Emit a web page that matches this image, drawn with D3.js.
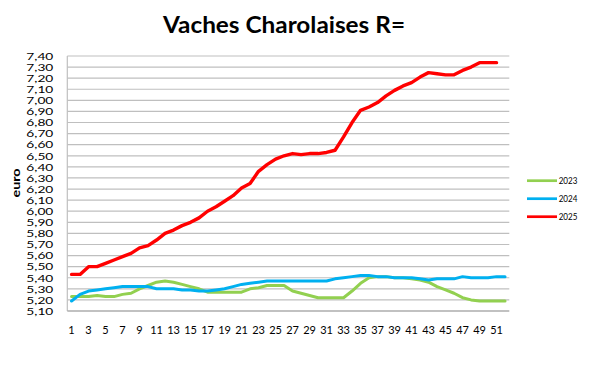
<!DOCTYPE html>
<html>
<head>
<meta charset="utf-8">
<script src="https://cdn.jsdelivr.net/npm/d3@7"></script>
<style>
  html, body { margin: 0; padding: 0; background: #fff; }
  svg { display: block; }
</style>
</head>
<body>
<svg id="chart" width="600" height="365"></svg>
<script>
const title = "Vaches Charolaises R=";
const yAxisTitle = "euro";
const weeks = [1,2,3,4,5,6,7,8,9,10,11,12,13,14,15,16,17,18,19,20,21,22,23,24,25,26,27,28,29,30,31,32,33,34,35,36,37,38,39,40,41,42,43,44,45,46,47,48,49,50,51,52];
const xTickLabels = [1,3,5,7,9,11,13,15,17,19,21,23,25,27,29,31,33,35,37,39,41,43,45,47,49,51];
const yTickValues = [5.10,5.20,5.30,5.40,5.50,5.60,5.70,5.80,5.90,6.00,6.10,6.20,6.30,6.40,6.50,6.60,6.70,6.80,6.90,7.00,7.10,7.20,7.30,7.40];
const seriesNames = ["2023", "2024", "2025"];
const values2023 = [5.23,5.23,5.23,5.24,5.23,5.23,5.25,5.26,5.30,5.33,5.36,5.37,5.36,5.34,5.32,5.30,5.27,5.27,5.27,5.27,5.27,5.30,5.31,5.33,5.33,5.33,5.28,5.26,5.24,5.22,5.22,5.22,5.22,5.28,5.35,5.40,5.41,5.41,5.40,5.40,5.39,5.38,5.36,5.32,5.29,5.26,5.22,5.20,5.19,5.19,5.19,5.19];
const values2024 = [5.19,5.25,5.28,5.29,5.30,5.31,5.32,5.32,5.32,5.32,5.30,5.30,5.30,5.29,5.29,5.28,5.28,5.29,5.30,5.32,5.34,5.35,5.36,5.37,5.37,5.37,5.37,5.37,5.37,5.37,5.37,5.39,5.40,5.41,5.42,5.42,5.41,5.41,5.40,5.40,5.40,5.39,5.38,5.39,5.39,5.39,5.41,5.40,5.40,5.40,5.41,5.41];
const values2025 = [5.43,5.43,5.50,5.50,5.53,5.56,5.59,5.62,5.67,5.69,5.74,5.80,5.83,5.87,5.90,5.94,6.00,6.04,6.09,6.14,6.21,6.25,6.36,6.42,6.47,6.50,6.52,6.51,6.52,6.52,6.53,6.55,6.67,6.80,6.91,6.94,6.98,7.04,7.09,7.13,7.16,7.21,7.25,7.24,7.23,7.23,7.27,7.30,7.34,7.34,7.34];
const seriesColors = ["#92D050", "#00B0F0", "#FF0000"];

const FONT = "Lato, 'Open Sans', 'Liberation Sans', sans-serif";
const svg = d3.select("#chart");
const margin = { left: 67.3, right: 509.3, top: 56, bottom: 311 };

const x = d3.scaleBand().domain(weeks).range([margin.left, margin.right]);
const xc = d => x(d) + x.bandwidth() / 2;
const y = d3.scaleLinear().domain([5.10, 7.40]).range([margin.bottom, margin.top]);

// gridlines
svg.append("g").selectAll("line").data(yTickValues.slice(1)).join("line")
  .attr("x1", margin.left).attr("x2", margin.right)
  .attr("y1", d => y(d)).attr("y2", d => y(d))
  .attr("stroke", "#BFBFBF").attr("stroke-width", 1.2);

// left border
svg.append("line")
  .attr("x1", margin.left).attr("x2", margin.left)
  .attr("y1", margin.top).attr("y2", margin.bottom)
  .attr("stroke", "#BFBFBF").attr("stroke-width", 1.2);

// bottom axis line
svg.append("line")
  .attr("x1", margin.left).attr("x2", margin.right)
  .attr("y1", margin.bottom).attr("y2", margin.bottom)
  .attr("stroke", "#ADADAD").attr("stroke-width", 1.6);

// Y axis
const fmt = d => d3.format(".2f")(d).replace(".", ",");
const yAxis = svg.append("g")
  .attr("transform", `translate(${margin.left},0)`)
  .call(d3.axisLeft(y).tickValues(yTickValues).tickSize(0).tickPadding(14).tickFormat(fmt));
yAxis.select(".domain").remove();
yAxis.selectAll("text")
  .attr("font-family", FONT)
  .attr("font-size", 9.1)
  .attr("dy", "0.36em")
  .attr("fill", "#000")
  .attr("textLength", 27)
  .attr("lengthAdjust", "spacingAndGlyphs");

// X axis
const xAxis = svg.append("g")
  .attr("transform", `translate(0,${margin.bottom})`)
  .call(d3.axisBottom(x).tickValues(xTickLabels).tickSize(0).tickPadding(15));
xAxis.select(".domain").remove();
xAxis.selectAll("text")
  .attr("font-family", FONT)
  .attr("font-size", 11)
  .attr("fill", "#000");

// Lines
const line = d3.line().x((d, i) => xc(weeks[i])).y(d => y(d));
const allSeries = [values2023, values2024, values2025];
svg.append("g").selectAll("path").data(allSeries).join("path")
  .attr("d", d => line(d))
  .attr("fill", "none")
  .attr("stroke", (d, i) => seriesColors[i])
  .attr("stroke-width", (d, i) => i === 2 ? 3.4 : 3)
  .attr("stroke-linejoin", "round")
  .attr("stroke-linecap", "round");

// Title
svg.append("text")
  .attr("x", 284).attr("y", 33.3)
  .attr("text-anchor", "middle")
  .attr("font-family", FONT)
  .attr("font-weight", "bold")
  .attr("font-size", 23)
  .attr("fill", "#000")
  .attr("textLength", 242)
  .attr("lengthAdjust", "spacingAndGlyphs")
  .text(title);

// Y axis title
svg.append("text")
  .attr("transform", "translate(20,183) rotate(-90)")
  .attr("text-anchor", "middle")
  .attr("font-family", FONT)
  .attr("font-weight", "bold")
  .attr("font-size", 11.5)
  .attr("fill", "#000")
  .attr("textLength", 29)
  .attr("lengthAdjust", "spacingAndGlyphs")
  .text(yAxisTitle);

// Legend
const legendY = [180.7, 198.7, 216.7];
const legend = svg.append("g");
legend.selectAll("line").data(seriesNames).join("line")
  .attr("x1", 527).attr("x2", 557)
  .attr("y1", (d, i) => legendY[i]).attr("y2", (d, i) => legendY[i])
  .attr("stroke", (d, i) => seriesColors[i])
  .attr("stroke-width", 2.7);
legend.selectAll("text").data(seriesNames).join("text")
  .attr("x", 558.7)
  .attr("y", (d, i) => legendY[i] + 3)
  .attr("font-family", FONT)
  .attr("font-size", 8.5)
  .attr("fill", "#000")
  .attr("textLength", 18.7)
  .attr("lengthAdjust", "spacingAndGlyphs")
  .text(d => d);
</script>
</body>
</html>
